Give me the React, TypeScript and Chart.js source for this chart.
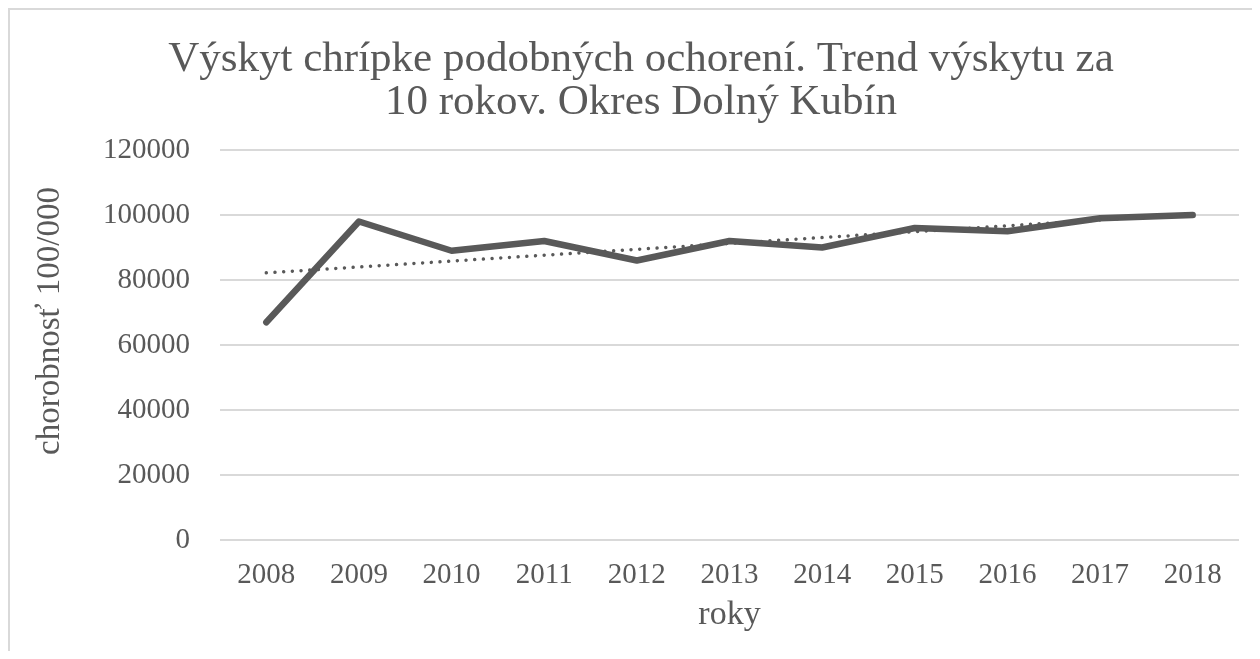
import React, { useEffect, useRef } from "react";
import { Chart, registerables } from "chart.js";

Chart.register(...registerables);

const years = ["2008", "2009", "2010", "2011", "2012", "2013", "2014", "2015", "2016", "2017", "2018"];
const incidence = [67000, 98000, 89000, 92000, 86000, 92000, 90000, 96000, 95000, 99000, 100000];
const trendValues = [82200, null, null, null, null, null, null, null, null, null, 100300];
const yTickMin = 0;
const yTickMax = 120000;
const yTickStep = 20000;
const titleLines = ["Výskyt chrípke podobných ochorení. Trend výskytu za", "10 rokov. Okres Dolný Kubín"];
const xTitle = "roky";
const yTitle = "chorobnosť 100/000";

const FONT = "'Liberation Serif', 'Times New Roman', serif";
const TEXT = "#595959";
const GRID = "#d9d9d9";

const yTitlePlugin = {
  id: "yTitlePlugin",
  afterDraw(chart: any) {
    const { ctx, chartArea } = chart;
    ctx.save();
    ctx.fillStyle = TEXT;
    ctx.font = `33px ${FONT}`;
    ctx.textAlign = "center";
    ctx.textBaseline = "middle";
    ctx.translate(chartArea.left - 170, (chartArea.top + chartArea.bottom) / 2 - 24);
    ctx.rotate(-Math.PI / 2);
    ctx.fillText(yTitle, 0, 0);
    ctx.restore();
  },
};

export default function App() {
  const ref = useRef<HTMLCanvasElement | null>(null);

  useEffect(() => {
    if (!ref.current) return;
    const chart = new Chart(ref.current, {
      type: "line",
      data: {
        labels: years,
        datasets: [
          {
            label: "trend",
            data: trendValues,
            borderColor: TEXT,
            borderWidth: 3.5,
            borderDash: [0.001, 8.7],
            borderCapStyle: "round",
            pointRadius: 0,
            spanGaps: true,
            order: 0,
          },
          {
            label: "chorobnosť",
            data: incidence,
            borderColor: TEXT,
            borderWidth: 6.5,
            borderJoinStyle: "round",
            borderCapStyle: "round",
            pointRadius: 0,
            tension: 0,
            order: 1,
          },
        ],
      },
      options: {
        responsive: false,
        animation: false,
        layout: { padding: 0 },
        plugins: {
          legend: { display: false },
          tooltip: { enabled: false },
          title: {
            display: true,
            text: titleLines,
            color: TEXT,
            font: { family: FONT, size: 43, weight: "normal", lineHeight: 1.0 },
            padding: { top: 28, bottom: 26 },
          },
        },
        scales: {
          x: {
            offset: true,
            grid: { display: false, drawTicks: false, offset: true },
            border: { display: false },
            ticks: {
              color: TEXT,
              font: { family: FONT, size: 29 },
              padding: 18,
              maxRotation: 0,
              autoSkip: false,
            },
            title: {
              display: true,
              text: xTitle,
              color: TEXT,
              font: { family: FONT, size: 34 },
              padding: { top: 0, bottom: 16 },
            },
            afterFit: (s: any) => {
              s.height = 111;
            },
          },
          y: {
            min: yTickMin,
            max: yTickMax,
            grid: { color: GRID, lineWidth: 2, drawTicks: false },
            border: { display: false },
            ticks: {
              stepSize: yTickStep,
              color: TEXT,
              font: { family: FONT, size: 29 },
              padding: 30,
              callback: (v: any) => String(v),
            },
            title: { display: false },
            afterFit: (s: any) => {
              s.width = 210;
            },
          },
          yRight: {
            type: "linear",
            position: "right",
            display: true,
            grid: { display: false, drawTicks: false },
            border: { display: false },
            ticks: { display: false },
            afterFit: (s: any) => {
              s.width = 33;
            },
          },
        },
      } as any,
      plugins: [yTitlePlugin],
    });
    return () => chart.destroy();
  }, []);

  return (
    <div
      style={{
        position: "relative",
        width: 1250,
        height: 641,
        borderTop: "2px solid #d9d9d9",
        borderLeft: "2px solid #d9d9d9",
        overflow: "hidden",
        background: "#fff",
      }}
    >
      <canvas ref={ref} width={1262} height={641} style={{ display: "block", width: 1262, height: 641 }} />
    </div>
  );
}
